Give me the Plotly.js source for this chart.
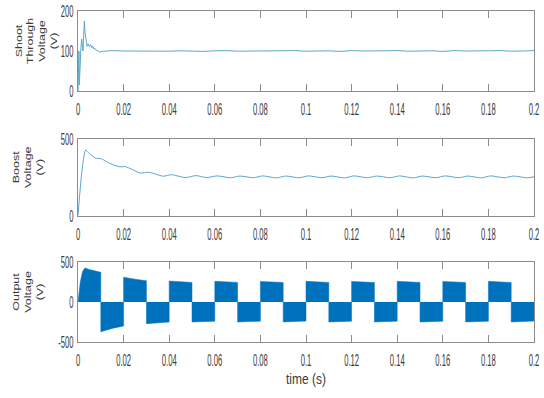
<!DOCTYPE html>
<html><head><meta charset="utf-8">
<script src="https://cdn.plot.ly/plotly-3.0.1.min.js"></script>
<style>html,body{margin:0;padding:0;background:#fff;} #chart{width:544px;height:398px;}</style>
</head><body><div id="chart"></div>
<script>
// ---- data ----
const xTickVals = [0, 0.02, 0.04, 0.06, 0.08, 0.1, 0.12, 0.14, 0.16, 0.18, 0.2];
const xTickText = ['0', '0.02', '0.04', '0.06', '0.08', '0.1', '0.12', '0.14', '0.16', '0.18', '0.2'];

const shootTickVals = [0, 100, 200];
const boostTickVals = [0, 500];
const outTickVals = [-500, 0, 500];

const tShoot = [0, 0.0002, 0.0004, 0.0006, 0.0009, 0.0012, 0.0016, 0.0019, 0.0022, 0.0025, 0.0028, 0.0031, 0.0035, 0.004, 0.0045, 0.005, 0.0055, 0.006, 0.0065, 0.007, 0.0075, 0.008, 0.009, 0.0095, 0.0105,
  0.015, 0.02, 0.025, 0.03, 0.035, 0.04, 0.045, 0.05, 0.055, 0.06, 0.065, 0.07, 0.075, 0.08, 0.085, 0.09, 0.095, 0.1,
  0.105, 0.11, 0.115, 0.12, 0.125, 0.13, 0.135, 0.14, 0.145, 0.15, 0.155, 0.16, 0.165, 0.17, 0.175, 0.18, 0.185, 0.19, 0.195, 0.2];
const vShoot = [0, 90, 100, 15, 70, 100, 130, 105, 100, 140, 175, 145, 122, 112, 118, 111, 116, 108, 112, 105, 106, 102, 99, 97, 99,
  101, 100, 99.5, 100.5, 100, 99.5, 100.5, 100, 99, 100.5, 101, 99.5, 100, 100.5, 99.5, 100, 101, 99.5,
  100, 100.5, 99, 101, 100, 99.5, 100.5, 101, 99.5, 100, 100.5, 99, 101, 100, 99.5, 100.5, 101, 99.5, 100, 101];

const tBoost = [0, 0.0034, 0.005, 0.0075, 0.0104, 0.014, 0.0184, 0.0206, 0.0235, 0.0272, 0.0309, 0.0338, 0.0374, 0.041, 0.047, 0.0518, 0.0564,
  0.061, 0.067, 0.071, 0.077, 0.081, 0.087, 0.091, 0.097, 0.101, 0.107, 0.111, 0.117, 0.121, 0.127, 0.131, 0.137,
  0.141, 0.147, 0.151, 0.157, 0.161, 0.167, 0.171, 0.177, 0.181, 0.187, 0.191, 0.197, 0.2];
const vBoost = [0, 428, 405, 377, 370, 340, 318, 320, 303, 278, 283, 272, 257, 267, 248, 261, 248,
  259, 247, 258, 247, 259, 246, 258, 247, 259, 247, 258, 246, 259, 247, 258, 247,
  259, 246, 258, 247, 259, 247, 258, 246, 259, 247, 258, 247, 253];

const tOut = [0, 0.001, 0.002, 0.003, 0.005, 0.0075, 0.01,
  0.01, 0.015, 0.02, 0.02, 0.025, 0.03, 0.03, 0.035, 0.04, 0.04, 0.045, 0.05, 0.05, 0.055, 0.06,
  0.06, 0.065, 0.07, 0.07, 0.075, 0.08, 0.08, 0.085, 0.09, 0.09, 0.095, 0.1,
  0.1, 0.105, 0.11, 0.11, 0.115, 0.12, 0.12, 0.125, 0.13, 0.13, 0.135, 0.14,
  0.14, 0.145, 0.15, 0.15, 0.155, 0.16, 0.16, 0.165, 0.17, 0.17, 0.175, 0.18,
  0.18, 0.185, 0.19, 0.19, 0.195, 0.2];
const vOut = [0, 250, 380, 425, 405, 388, 372,
  -372, -330, -300, 310, 285, 265, -272, -260, -250, 262, 252, 245, -250, -244, -240,
  258, 251, 245, -250, -245, -240, 257, 252, 244, -249, -244, -239,
  258, 251, 245, -250, -245, -240, 257, 252, 244, -249, -245, -240,
  258, 251, 245, -250, -244, -240, 257, 252, 245, -249, -245, -240,
  258, 251, 244, -250, -245, -239];

// ---- styling ----
const lineBlue = '#5aa6cf';
const fillBlue = '#0072BD';
const axLine = '#8c8c8c';
const tickFont = {family: '"Liberation Sans", Arial, sans-serif', size: 17, color: '#3a3a3a'};
const titleFont = {family: '"Liberation Sans", Arial, sans-serif', size: 12.5, color: '#3a3a3a'};

function xax(anchor, title) {
  const a = {domain: [0, 1], anchor: anchor, range: [0, 0.2], tickmode: 'array', tickvals: xTickVals, ticktext: xTickText,
    ticks: 'inside', ticklen: 7, tickwidth: 1, tickcolor: axLine, showline: true, linecolor: axLine, linewidth: 1,
    mirror: 'ticks', showgrid: false, zeroline: false, tickfont: tickFont, ticklabeloverflow: 'allow',
    ticklabelstandoff: 3, fixedrange: true};
  if (title) a.title = {text: title, font: {family: tickFont.family, size: 15, color: '#3a3a3a'}, standoff: 4};
  return a;
}
function yax(anchor, domain, range, vals, title) {
  return {domain: domain, anchor: anchor, range: range, tickmode: 'array', tickvals: vals, ticktext: vals.map(String),
    ticks: '', showline: true, linecolor: axLine, linewidth: 1, mirror: true, showgrid: false, zeroline: false,
    tickfont: tickFont, ticklabeloverflow: 'allow', fixedrange: true, title: {text: title, font: titleFont, standoff: 4}};
}

const traces = [
  {x: tShoot, y: vShoot, xaxis: 'x', yaxis: 'y', type: 'scatter', mode: 'lines', line: {color: lineBlue, width: 1}, hoverinfo: 'skip'},
  {x: tBoost, y: vBoost, xaxis: 'x2', yaxis: 'y2', type: 'scatter', mode: 'lines', line: {color: lineBlue, width: 1, shape: 'spline', smoothing: 0.7}, hoverinfo: 'skip'},
  {x: tOut, y: vOut, xaxis: 'x3', yaxis: 'y3', type: 'scatter', mode: 'lines', fill: 'tozeroy', fillcolor: fillBlue, line: {color: fillBlue, width: 0.5}, hoverinfo: 'skip'}
];

const layout = {
  width: 544, height: 398,
  margin: {l: 78, r: 10, t: 11, b: 56},
  paper_bgcolor: '#ffffff', plot_bgcolor: '#ffffff',
  showlegend: false,
  xaxis: xax('y'),
  xaxis2: xax('y2'),
  xaxis3: xax('y3', 'time (s)'),
  yaxis: yax('x', [0.7583, 1], [0, 200], shootTickVals, 'Shoot<br>Through<br>Voltage<br>(V)'),
  yaxis2: yax('x2', [0.382, 0.6133], [0, 500], boostTickVals, 'Boost<br>Voltage<br>(V)'),
  yaxis3: yax('x3', [0, 0.2417], [-500, 500], outTickVals, 'Output<br>Voltage<br>(V)')
};

function squeeze(el, sx, sy, dx, dy) {
  const bb = el.getBBox();
  const anchor = el.getAttribute('text-anchor') || 'start';
  let ax = bb.x;
  if (anchor === 'end') ax = bb.x + bb.width;
  else if (anchor === 'middle') ax = bb.x + bb.width / 2;
  const ay = bb.y + bb.height / 2;
  const prev = el.getAttribute('transform') || '';
  el.setAttribute('transform', `translate(${dx},${dy}) ${prev} translate(${ax},${ay}) scale(${sx},${sy}) translate(${-ax},${-ay})`);
}

Plotly.newPlot('chart', traces, layout, {staticPlot: true, displayModeBar: false}).then(function () {
  document.querySelectorAll('.xaxislayer-above text, .yaxislayer-above text').forEach(function (t) { squeeze(t, 0.45, 1, 0, 0); });
  document.querySelectorAll('.infolayer g[class*="title"] text').forEach(function (t) {
    const tr = t.getAttribute('transform') || '';
    if (tr.indexOf('rotate') >= 0) squeeze(t, 1, 0.72, 5, -10);
    else squeeze(t, 0.8, 1, 0, 0);
  });
});
</script></body></html>
